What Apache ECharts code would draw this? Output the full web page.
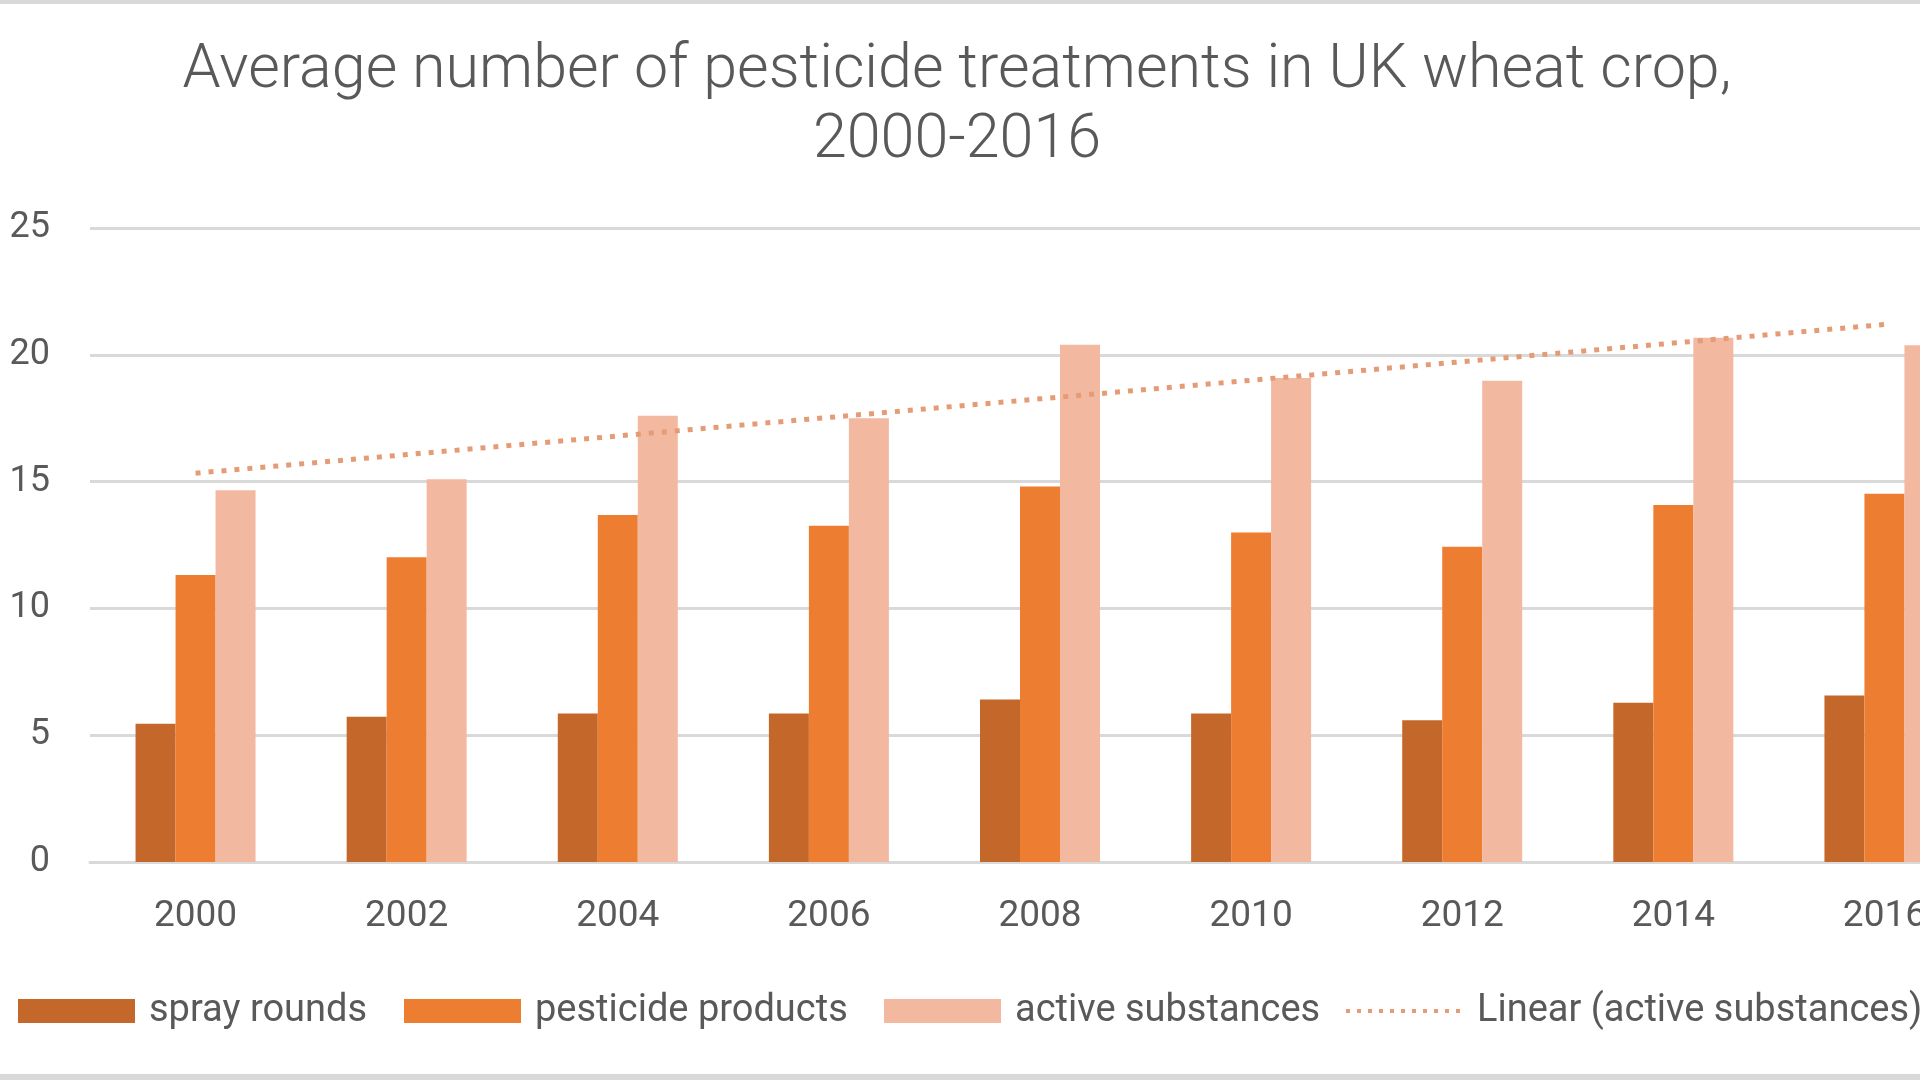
<!DOCTYPE html>
<html>
<head>
<meta charset="utf-8">
<script src="https://cdn.jsdelivr.net/npm/echarts@6/dist/echarts.min.js"></script>
<style>
  html, body { margin: 0; padding: 0; background: #ffffff; overflow: hidden; width: 1920px; height: 1080px; }
  #chart { width: 2000px; height: 1080px; }
</style>
</head>
<body>
<div id="chart"></div>
<script>
const years = ['2000', '2002', '2004', '2006', '2008', '2010', '2012', '2014', '2016'];
const sprayRounds = [5.45, 5.73, 5.86, 5.86, 6.41, 5.86, 5.59, 6.28, 6.57];
const pesticideProducts = [11.32, 12.02, 13.68, 13.26, 14.81, 12.99, 12.43, 14.08, 14.52];
const activeSubstances = [14.66, 15.09, 17.6, 17.5, 20.4, 19.09, 18.98, 20.67, 20.38];
const yTicks = { min: 0, max: 25, interval: 5 };

// Linear trendline (least squares) of active substances, as in the source chart
function linearTrend(vals) {
  const n = vals.length;
  let sx = 0, sy = 0, sxy = 0, sxx = 0;
  vals.forEach((v, i) => { sx += i; sy += v; sxy += i * v; sxx += i * i; });
  const b = (n * sxy - sx * sy) / (n * sxx - sx * sx);
  const a = (sy - b * sx) / n;
  return vals.map((v, i) => +(a + b * i).toFixed(3));
}
const trend = linearTrend(activeSubstances);

const FONT = 'Roboto';
const TXT = '#595959';
const GRIDC = '#D9D9D9';
const TREND = '#E59C76';

const chart = echarts.init(document.getElementById('chart'), null, { renderer: 'canvas' });

function legendFor(name, left, extra) {
  return Object.assign({
    data: [name],
    left: left,
    top: 992,
    padding: 0,
    itemWidth: 117,
    itemHeight: 24,
    selectedMode: false,
    textStyle: { fontFamily: FONT, fontSize: 38, color: TXT, padding: [0, 0, 0, 9] }
  }, extra);
}

chart.setOption({
  animation: false,
  backgroundColor: '#ffffff',
  title: {
    text: 'Average number of pesticide treatments in UK wheat crop,\n2000-2016',
    left: 952,
    top: 32,
    textAlign: 'center',
    textStyle: { fontFamily: FONT, fontWeight: 300, fontSize: 61, lineHeight: 70, color: TXT }
  },
  legend: [
    legendFor('spray rounds', 18, { icon: 'rect' }),
    legendFor('pesticide products', 404, { icon: 'rect' }),
    legendFor('active substances', 884, { icon: 'rect' }),
    legendFor('Linear (active substances)', 1344, {
      itemStyle: { opacity: 0 },
      lineStyle: { color: TREND, width: 4, type: [4, 7] }
    })
  ],
  grid: { left: 90, right: 10, top: 228, bottom: 218, containLabel: false },
  xAxis: {
    type: 'category',
    data: years,
    axisLine: { lineStyle: { color: GRIDC, width: 3 } },
    axisTick: { show: false },
    axisLabel: { fontFamily: FONT, fontSize: 37, color: TXT, margin: 36 }
  },
  yAxis: {
    type: 'value',
    min: yTicks.min,
    max: yTicks.max,
    interval: yTicks.interval,
    axisLine: { show: false },
    axisTick: { show: false },
    splitLine: { lineStyle: { color: GRIDC, width: 3 } },
    axisLabel: { fontFamily: FONT, fontSize: 36, color: TXT, margin: 40, padding: [6, 0, 0, 0] }
  },
  series: [
    { name: 'spray rounds', type: 'bar', data: sprayRounds, barWidth: 40, barGap: '0%',
      itemStyle: { color: '#C4672B' } },
    { name: 'pesticide products', type: 'bar', data: pesticideProducts, barWidth: 40, barGap: '0%',
      itemStyle: { color: '#ED7D31' } },
    { name: 'active substances', type: 'bar', data: activeSubstances, barWidth: 40, barGap: '0%',
      itemStyle: { color: '#F3B8A0' } },
    { name: 'Linear (active substances)', type: 'line', data: trend, symbol: 'none', z: 5,
      lineStyle: { color: TREND, width: 5, type: [5, 8] },
      itemStyle: { color: TREND } }
  ],
  graphic: [
    { type: 'rect', shape: { x: 0, y: 0, width: 2000, height: 4 }, style: { fill: GRIDC }, silent: true },
    { type: 'rect', shape: { x: 0, y: 1074, width: 2000, height: 6 }, style: { fill: GRIDC }, silent: true }
  ]
});
</script>
</body>
</html>
